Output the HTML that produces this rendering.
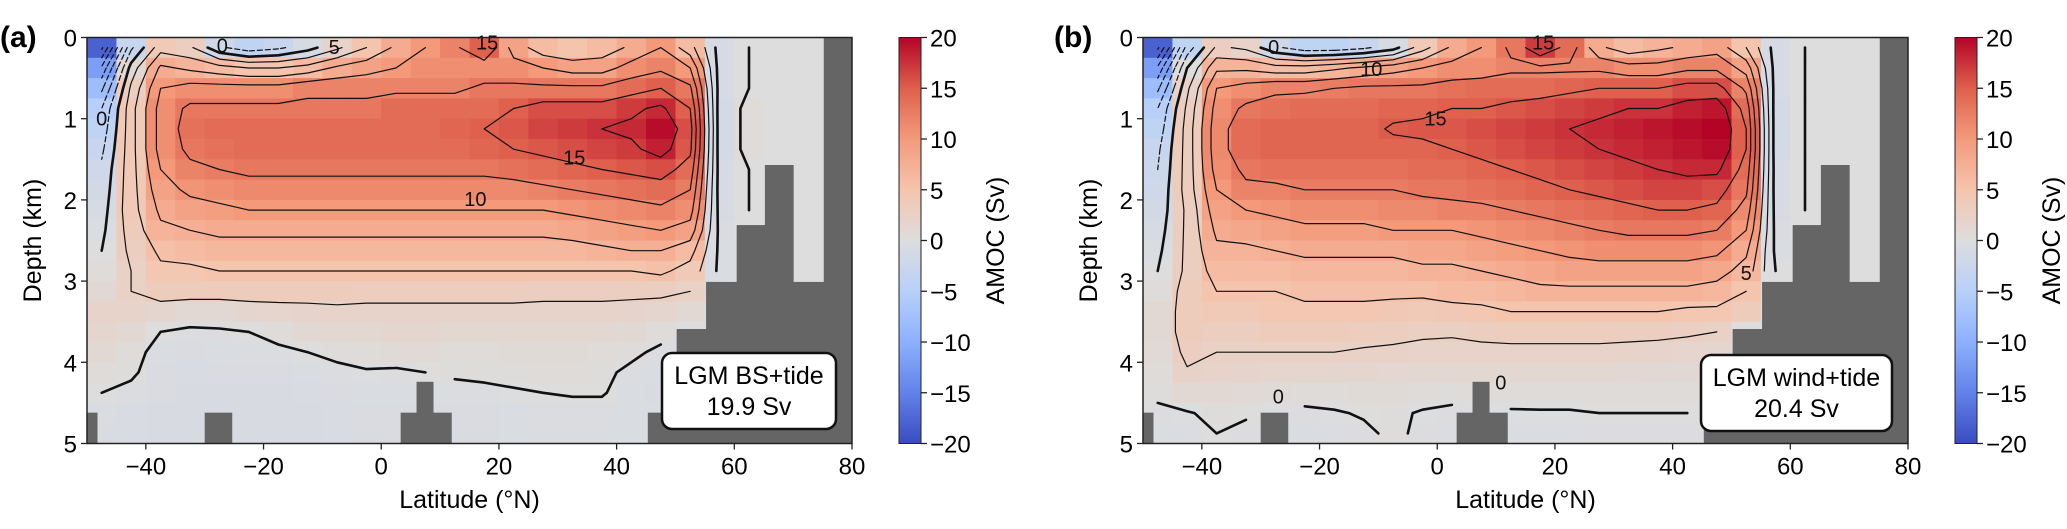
<!DOCTYPE html>
<html><head><meta charset="utf-8"><style>
html,body{margin:0;padding:0;background:#fff;}
svg{display:block;font-family:"Liberation Sans",Arial,sans-serif;}
</style></head><body>
<svg id="fig" width="2067" height="529" viewBox="0 0 2067 529" xmlns="http://www.w3.org/2000/svg"></svg>
<script>
// ---- data ----
const latCenters = [-47.5,-42.5,-37.5,-32.5,-27.5,-22.5,-17.5,-12.5,-7.5,-2.5,2.5,7.5,12.5,17.5,22.5,27.5,32.5,37.5,42.5,47.5,52.5,57.5,62.5,67.5,72.5,77.5];
const depthCenters = [0.125,0.375,0.625,0.875,1.125,1.375,1.625,1.875,2.125,2.375,2.625,2.875,3.125,3.375,3.625,3.875,4.125,4.375,4.625,4.875];
const amocA = [
[-18,-3,4,3,-2,-4,-3,-1,2,5,8,10,12,15,9,6,5,6,8,10,6,-1,0,0,0,0],
[-12,1,8,7,6,5,5,6,8,9,10,11,11,11,11,10,9,9,11,12,10,-1,0,0,0,0],
[-8,3,10,11,11,11,11,12,12,12,12,12,12,13,13,13,13,13,14,15,13,-1,0,0,0,0],
[-5,4,11,13,13,13,13,13,13,13,14,14,14,14,15,16,16,16,17,18,15,-1.2,0.5,0,0,0],
[-4,4,11,13.5,14,14,14,14,14,14,14,14,14.5,15,15.5,16.5,17,17.5,18,19.5,16,-1.2,0.5,0,0,0],
[-3,4,11,13,13.5,14,14,14,14,14,14,14,14,14.5,15,15.5,16,16.5,17,18.5,15.5,-1.2,0.5,0,0,0],
[-2,4,10,12,12.5,13,13,13,13,13,13,13,13,13,13.5,14,14.5,15,15.5,16,14,-1,0,0,0,0],
[-1.5,4,9,10.5,11,11.5,11.5,11.5,11.5,11.5,11.5,11.5,11.5,11.5,11.5,12,12.5,13,13.5,14,12.5,-1,0,0,0,0],
[-1,4,8,9,9.5,10,10,10,10,10,10,10,10,10,10,10,10.5,11,11.5,12,11,-0.8,0,0,0,0],
[-0.5,3.5,7,7.5,8,8,8,8,8,8,8,8,8,8,8,8,8.5,9,9.5,10,9,-0.6,0,0,0,0],
[0,3,5.5,6,6.5,6.5,6.5,6.5,6.5,6.5,6.5,6.5,6.5,6.5,6.5,6.5,6.5,7,7.5,7.5,6,-0.5,0,0,0,0],
[0.5,2.5,4.5,4.5,5,5,5,5,5,5,5,5,5,5,5,5,5,5,5,5.5,4,-0.5,0,0,0,0],
[1,2.5,3.5,3.5,3.5,3.5,3.5,3.5,3.5,3.2,3.2,3.2,3.2,3.2,3.2,3,3,3,3,3,2.5,-0.5,0,0,0,0],
[2,2,1.5,1,1,1.5,1.7,1.8,2,2,2,2,2,2,2,2,2,2,1.8,1.5,1,-0.5,0,0,0,0],
[1.5,1,0,-0.3,-0.2,0,0.5,1,1.2,1.3,1.5,1.5,1.2,1.2,1.2,1.2,1.2,1.2,1,0.5,0,0,0,0,0,0],
[1,0.5,-0.5,-0.6,-0.5,-0.4,-0.3,0,0.3,0.5,0.7,0.8,0.5,0.5,0.6,0.7,0.7,0.5,0.3,-0.3,0,0,0,0,0,0],
[0.5,0.2,-0.6,-0.7,-0.6,-0.6,-0.6,-0.5,-0.3,-0.1,-0.2,0,0.2,0.3,0.3,0.4,0.4,0.3,-0.3,-0.5,0,0,0,0,0,0],
[0,-0.3,-0.6,-0.8,-0.8,-0.8,-0.8,-0.7,-0.6,-0.5,-0.5,-0.5,-0.4,-0.3,-0.1,0,0.1,0.1,-0.5,-0.6,0,0,0,0,0,0],
[-0.5,-0.7,-0.8,-0.8,-0.8,-0.8,-0.8,-0.8,-0.7,-0.6,-0.6,-0.6,-0.6,-0.6,-0.5,-0.4,-0.4,-0.4,-0.5,-0.5,0,0,0,0,0,0],
[-0.6,-0.7,-0.8,-0.8,-0.8,-0.8,-0.8,-0.8,-0.7,-0.6,-0.6,-0.6,-0.6,-0.6,-0.5,-0.4,-0.4,-0.4,-0.5,-0.5,0,0,0,0,0,0]
];
const amocB = [
[-18,-4,3,2,-2,-4,-4,-3,-1,4,8,10,13,17,14,8,6,7,8,9,5,-1,0,0,0,0],
[-12,0,7,7,6,6,7,8,9,10,11,11,12,12,12,12,11,11,12,12,9,-1,0,0,0,0],
[-8,2,10,11,12,12,12.5,13,13,13,13.5,14,14,14,14.5,15,15,15,16,16,12,-1,0,0,0,0],
[-5,3,11,13,13.5,14,14,14,14.5,14.5,15,15,15.5,16,16.5,17,17.5,17.5,18.5,19,14,-1.2,0,0,0,0],
[-4,3.5,11.5,14,14.5,14.5,14.5,14.5,15.2,15.5,15.5,16,16.5,17,17.5,18,18.5,19,19.5,20,15,-1.2,0,0,0,0],
[-3,3.5,11.5,14,14.5,14.5,14.5,14.5,14.5,14.5,15,15.5,16,16.5,17,17.5,18,18.5,19,19.5,15,-1.2,0,0,0,0],
[-2.5,3.5,11,13,13.5,13.5,13.5,13.5,13.5,14,14,14.5,15,15.5,16,16.5,17,17.5,18,18,14,-1,0,0,0,0],
[-2,3.5,10,12,12,12.5,12.5,12.5,12.5,13,13,13.5,14,14.5,15,15.5,16,16.5,16.5,16,13,-1,0,0,0,0],
[-1.5,3,9,10,10.5,11,11,11,11.5,11.5,12,12,12.5,13,13.5,14,14.5,15,15,14.5,11.5,-0.8,0,0,0,0],
[-1,3,8,8.5,9,9.5,9.5,9.5,10,10,10,10.5,11,11.5,12,12.5,13,13,13,12.5,10,-0.6,0,0,0,0],
[-0.5,3,7,7,7.5,8,8,8,8,8.5,8.5,9,9.5,10,10.5,11,11,11,11,10.5,8,-0.5,0,0,0,0],
[0,3,6,6,6,6.5,6.5,6.5,6.5,7,7,7.5,8,8.5,9,9,9,9,9,8.5,6.5,0,0,0,0,0],
[0.5,3.5,5,5,5,5.5,5.5,5.5,5.5,5.5,6,6,6.5,7,7,7,7,7,7,6.5,5,0,0,0,0,0],
[1,3.5,4,4,4.5,4.5,4.5,4.5,4.2,4,4.2,4.5,5,5,5,5,5,5,4.5,4.5,3.5,0,0,0,0,0],
[1,3.5,3,3,3.5,3.5,3.5,3.2,3,2.8,2.7,3,3.2,3.2,3.2,3.2,3,3,2.8,2.5,0,0,0,0,0,0],
[0.8,3,2.5,2.5,2.5,2.5,2.5,2.3,2.2,2,2,2,2,2,2,2,2,1.8,1.6,1.5,0,0,0,0,0,0],
[0.5,2.3,2,1.8,1.6,1.5,1.5,1.5,1.4,1.3,1.2,1.2,1.2,1.2,1.2,1.2,1.1,1,1,1,0,0,0,0,0,0],
[0.2,1,1,0.8,0.6,0.4,0.5,0.7,0.7,0.5,0.3,0.5,0.4,0.5,0.5,0.5,0.5,0.5,0.5,0.5,0,0,0,0,0,0],
[-0.2,-0.1,0.3,0.1,-0.1,-0.2,-0.1,0.1,0.2,-0.1,-0.2,-0.1,-0.1,-0.1,-0.1,0,0,0,0,0,0,0,0,0,0,0],
[-0.3,-0.3,0,-0.2,-0.3,-0.3,-0.3,-0.2,0.2,-0.2,-0.3,-0.3,-0.3,-0.3,-0.3,-0.2,-0.2,-0.2,-0.2,-0.2,0,0,0,0,0,0]
];
// land mask: [lat0, lat1, topDepth]
const landLat0 = [-50,-30,3.3,6,45.3,50.2,55.2,60.4,65.2,70,75.2];
const landLat1 = [-48.3,-25.4,11.9,8.8,50.2,55.2,60.4,65.2,70,75.2,80];
const landTop = [4.62,4.62,4.62,4.24,4.62,3.59,3.01,2.31,1.57,3.01,0];
const contourLevels = [-17.5,-15,-12.5,-10,-7.5,-5,-2.5,0,2.5,5,7.5,10,12.5,15,17.5];
const labelsA = [["15",32.8,1.48],["10",16,1.99],["15",18,0.06],["0",-27,0.1],["5",-8,0.12],["0",-47.5,1.0]];
const labelsB = [["10",-11.2,0.39],["15",-0.3,1.0],["0",-27.8,0.12],["0",10.8,4.25],["0",-27,4.42],["15",18,0.06],["5",52.5,2.9]];
const cbTicks = [20,15,10,5,0,-5,-10,-15,-20];
const xTicks = [-40,-20,0,20,40,60,80];
const yTicks = [0,1,2,3,4,5];

const NS="http://www.w3.org/2000/svg";
const svg=document.getElementById('fig');
function el(tag,attrs,parent){const e=document.createElementNS(NS,tag);for(const k in attrs)e.setAttribute(k,attrs[k]);(parent||svg).appendChild(e);return e;}
const stops=[[0,[58,76,192]],[0.125,[98,130,234]],[0.25,[141,176,254]],[0.375,[184,208,249]],[0.5,[221,221,221]],[0.625,[245,196,173]],[0.75,[244,154,123]],[0.875,[222,96,77]],[1,[180,4,38]]];
function cmap(v){let t=(v+20)/40;t=Math.max(0,Math.min(1,t));for(let i=0;i<stops.length-1;i++){const a=stops[i],b=stops[i+1];if(t<=b[0]){const f=(t-a[0])/(b[0]-a[0]);return `rgb(${a[1].map((c,k)=>Math.round(c+(b[1][k]-c)*f)).join(',')})`;}}return 'rgb(180,4,38)';}

const TOP=37.5,BOT=443.5,W=765,KM=(BOT-TOP)/5;
function panel(ox,data,labels,tag,boxLines,boxX,boxY,boxW,cbx){
  const xs=lat=>ox+(lat+50)*W/130, ys=d=>TOP+d*KM;
  const g=el('g',{});
  
  
  const clip=el('clipPath',{id:'clip'+tag},g);el('rect',{x:ox,y:TOP,width:W,height:BOT-TOP},clip);
  const hm=el('g',{'clip-path':`url(#clip${tag})`},g);
  
  
  for(let r=0;r<depthCenters.length;r++)for(let c=0;c<latCenters.length;c++){
    const x0=xs(latCenters[c]-2.5),x1=xs(latCenters[c]+2.5),y0=ys(depthCenters[r]-0.125),y1=ys(depthCenters[r]+0.125);
    const rc=el('rect',{x:x0.toFixed(2),y:y0.toFixed(2),width:(x1-x0+0.6).toFixed(2),height:(y1-y0+0.6).toFixed(2),fill:cmap(data[r][c])},hm);
    
    
  }
  const cg=el('g',{'clip-path':`url(#clip${tag})`,fill:'none',stroke:'#111'},g);
  
  
  const isLand=(lat,d)=>{for(let i=0;i<landTop.length;i++)if(lat>=landLat0[i]&&lat<=landLat1[i]&&d>=landTop[i])return true;return false;};
  for(const lv of contourLevels){
    let dstr='';
    for(let r=0;r<depthCenters.length-1;r++)for(let c=0;c<latCenters.length-1;c++){
      const P=[[c,r],[c+1,r],[c+1,r+1],[c,r+1]];
      if(P.some(p=>isLand(latCenters[p[0]],depthCenters[p[1]])))continue;
      const v=P.map(p=>data[p[1]][p[0]]);
      const pts=[];
      for(let e=0;e<4;e++){const a=e,b=(e+1)%4;const va=v[a],vb=v[b];
        if((va>=lv)!==(vb>=lv)){const f=(lv-va)/(vb-va);
          const lat=latCenters[P[a][0]]+(latCenters[P[b][0]]-latCenters[P[a][0]])*f;
          const d=depthCenters[P[a][1]]+(depthCenters[P[b][1]]-depthCenters[P[a][1]])*f;
          pts.push([xs(lat),ys(d)]);}}
      for(let k=0;k+1<pts.length;k+=2)dstr+=`M${pts[k][0].toFixed(1)},${pts[k][1].toFixed(1)}L${pts[k+1][0].toFixed(1)},${pts[k+1][1].toFixed(1)}`;
    }
    if(dstr){const p=el('path',{d:dstr,'stroke-width':lv===0?2.6:1.2,'stroke-dasharray':lv<0?'5,3':'none','stroke-linecap':'round'},cg);
      
      }
  }
  for(const L of labels){const t=el('text',{x:xs(L[1]),y:ys(L[2])+7,'font-size':20,'text-anchor':'middle',fill:'#111'},g);t.textContent=L[0];
    
    }
  for(let i=0;i<landTop.length;i++){const r=el('rect',{x:xs(landLat0[i]),y:ys(landTop[i]),width:xs(landLat1[i])-xs(landLat0[i])+0.5,height:BOT-ys(landTop[i]),fill:'#656565'},g);
    
    }
  const fr=el('rect',{x:ox,y:TOP,width:W,height:BOT-TOP,fill:'none',stroke:'#222','stroke-width':1.5},g);
  
  
  for(const t of xTicks){el('line',{x1:xs(t),x2:xs(t),y1:BOT,y2:BOT+6,stroke:'#222','stroke-width':1.3},g);
    const tx=el('text',{x:xs(t),y:BOT+31,'font-size':24,'text-anchor':'middle'},g);tx.textContent=t<0?'\u2212'+(-t):t;
    
    }
  for(const t of yTicks){el('line',{x1:ox-6,x2:ox,y1:ys(t),y2:ys(t),stroke:'#222','stroke-width':1.3},g);
    const ty=el('text',{x:ox-10,y:ys(t)+9,'font-size':24,'text-anchor':'end'},g);ty.textContent=t;
    
    }
  const xl=el('text',{x:ox+W/2,y:508,'font-size':25,'text-anchor':'middle'},g);xl.textContent='Latitude (°N)';
  
  
  const yl=el('text',{x:0,y:0,'font-size':25,'text-anchor':'middle',transform:`translate(${ox-46},${(TOP+BOT)/2}) rotate(-90)`},g);yl.textContent='Depth (km)';
  
  
  const pl=el('text',{x:ox-87+(tag==='b'?-2:0),y:47,'font-size':30,'font-weight':'bold'},g);pl.textContent='('+tag+')';
  
  
  const bx=el('rect',{x:boxX,y:boxY,width:boxW,height:76,rx:10,fill:'#fff',stroke:'#111','stroke-width':2.5},g);
  
  
  boxLines.forEach((s,i)=>{const t=el('text',{x:boxX+boxW/2,y:boxY+31+i*31,'font-size':25,'text-anchor':'middle'},g);t.textContent=s;
    
    });
  const gid='cb'+tag;const lg=el('linearGradient',{id:gid,x1:0,y1:1,x2:0,y2:0},g);
  for(let i=0;i<=40;i++)el('stop',{offset:i/40,'stop-color':cmap(-20+i)},lg);
  const cb=el('rect',{x:cbx,y:TOP,width:22,height:BOT-TOP,fill:`url(#${gid})`,stroke:'#222','stroke-width':1},g);
  
  
  for(const t of cbTicks){const y=TOP+(20-t)/40*(BOT-TOP);el('line',{x1:cbx+22,x2:cbx+28,y1:y,y2:y,stroke:'#222','stroke-width':1.3},g);
    const tt=el('text',{x:cbx+31,y:y+9,'font-size':24},g);tt.textContent=t<0?'\u2212'+(-t):t;
    
    }
  const ct=el('text',{x:0,y:0,'font-size':25,'text-anchor':'middle',transform:`translate(${cbx+105},${(TOP+BOT)/2}) rotate(-90)`},g);ct.textContent='AMOC (Sv)';
  
  
}
panel(87,amocA,labelsA,'a',['LGM BS+tide','19.9 Sv'],662,353,174,899);
panel(1143,amocB,labelsB,'b',['LGM wind+tide','20.4 Sv'],1701,355,191,1955);
</script>
</body></html>
